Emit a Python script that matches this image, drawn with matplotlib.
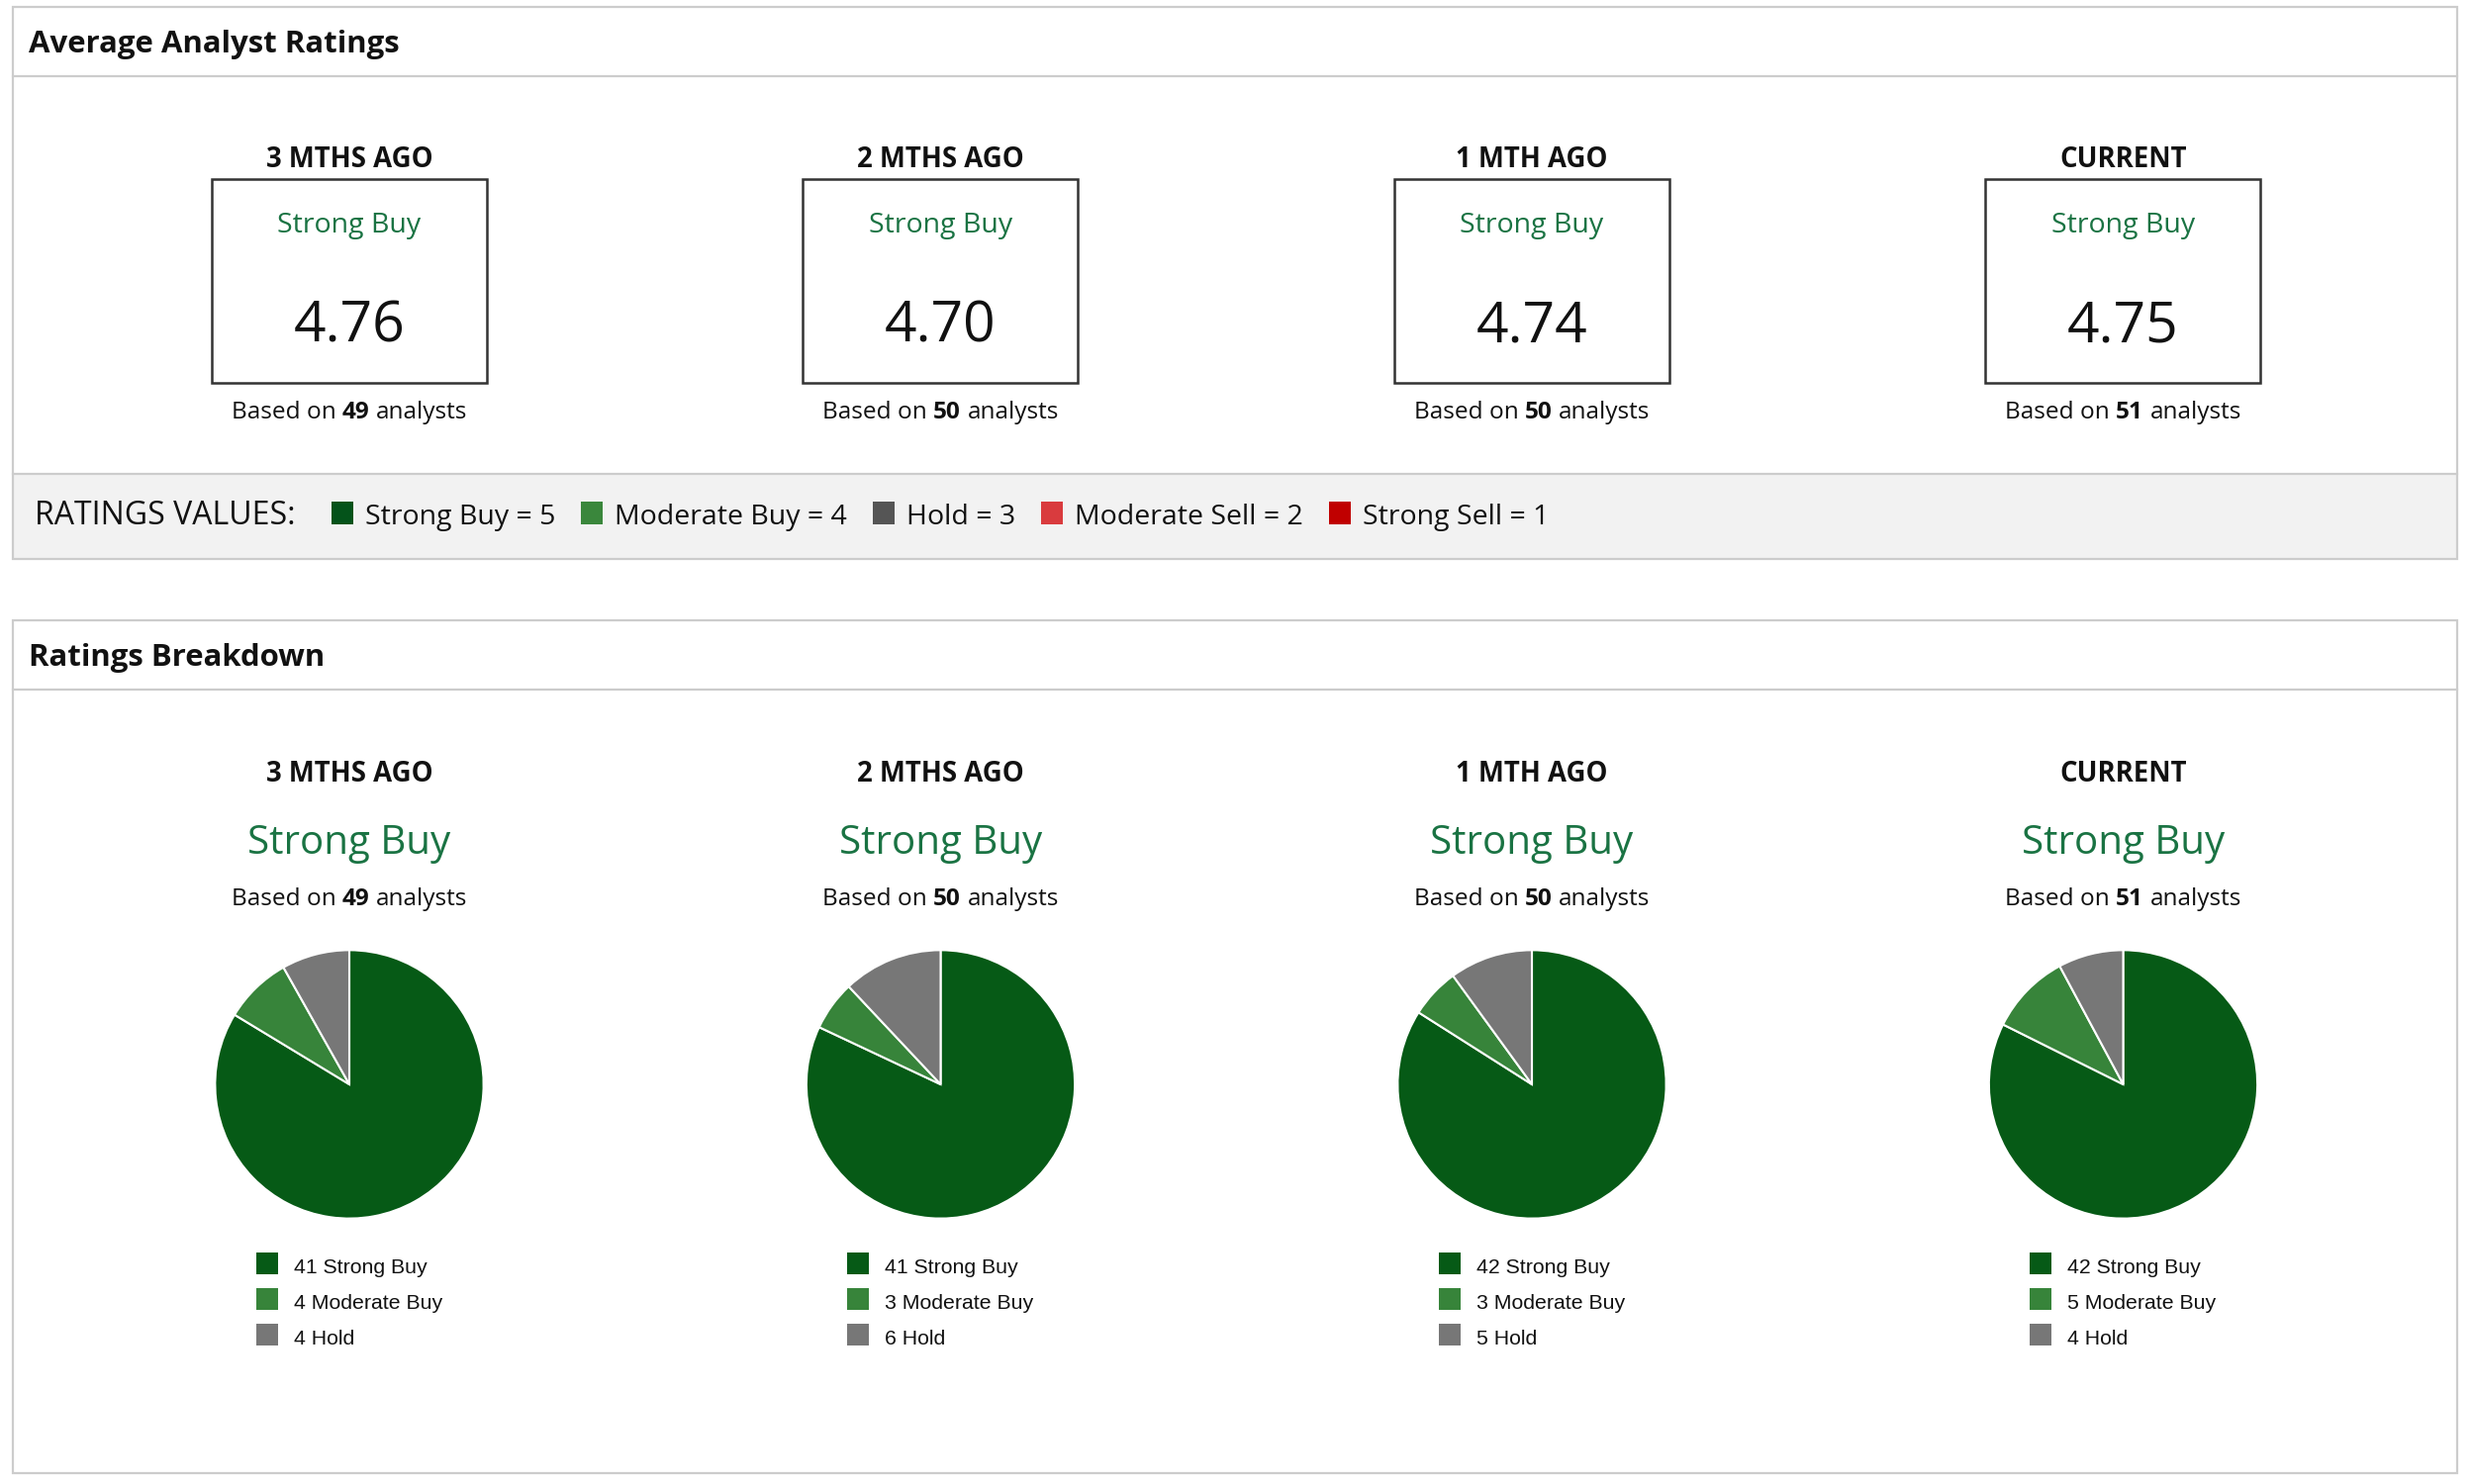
import matplotlib
matplotlib.use('Agg')
import matplotlib.pyplot as plt
from matplotlib.patches import Rectangle

# data
periods = ['3 MTHS AGO', '2 MTHS AGO', '1 MTH AGO', 'CURRENT']
avg_rating = [4.76, 4.70, 4.74, 4.75]
consensus = ['Strong Buy', 'Strong Buy', 'Strong Buy', 'Strong Buy']
n_analysts = [49, 50, 50, 51]
strong_buy = [41, 41, 42, 42]
moderate_buy = [4, 3, 3, 5]
hold = [4, 6, 5, 4]
rating_names = ['Strong Buy', 'Moderate Buy', 'Hold', 'Moderate Sell', 'Strong Sell']
rating_values = [5, 4, 3, 2, 1]

band_colors = ['#04531a', '#3a873c', '#555555', '#d93b3e', '#c00000']
pie_colors = ['#065a16', '#37843a', '#777777']
green_txt = '#1a7343'
border = '#cccccc'
FONT = 'Open Sans'
LFONT = 'Liberation Sans'

W, H = 2498, 1500
fig = plt.figure(figsize=(W / 100, H / 100), dpi=100)
ax = fig.add_axes([0, 0, 1, 1])
ax.set_xlim(0, W)
ax.set_ylim(H, 0)
ax.axis('off')
r = fig.canvas.get_renderer()


def width_of(t):
    return t.get_window_extent(renderer=r).width


def mixed_text(xc, y, parts, size):
    # parts: (string, weight); spaces are added between parts
    objs = []
    ws = []
    for s, w in parts:
        t = ax.text(0, y, s, fontsize=size, fontweight=w, family=FONT,
                    ha='left', va='baseline', color='#111111')
        objs.append(t)
        ws.append(width_of(t))
    a = ax.text(0, 0, 'nn', fontsize=size, family=FONT)
    b = ax.text(0, 0, 'n n', fontsize=size, family=FONT)
    sp = width_of(b) - width_of(a)
    a.remove()
    b.remove()
    total = sum(ws) + sp * (len(ws) - 1)
    x = xc - total / 2
    for t, w in zip(objs, ws):
        t.set_x(x)
        x += w + sp


left, right = 13, 2483
cols = [353 + i * 597.5 for i in range(4)]

# ---- top panel
ax.add_patch(Rectangle((left, 479), right - left, 565 - 479, facecolor='#f2f2f2',
                       edgecolor='none'))
ax.add_patch(Rectangle((left, 7), right - left, 565 - 7, facecolor='none',
                       edgecolor=border, lw=1.6))
ax.plot([left, right], [77, 77], color=border, lw=1.6)
ax.plot([left, right], [479, 479], color=border, lw=1.6)
ax.text(29, 53, 'Average Analyst Ratings', fontsize=22.4, fontweight='bold',
        family=FONT, va='baseline', color='#111111')

for i, cx in enumerate(cols):
    ax.text(cx, 169, periods[i], fontsize=19.8, fontweight='bold', family=FONT,
            ha='center', va='baseline', color='#111111')
    ax.add_patch(Rectangle((cx - 139, 181), 278, 206, facecolor='white',
                           edgecolor='#333333', lw=1.8))
    ax.text(cx, 235, consensus[i], fontsize=20.5, family=FONT, ha='center',
            va='baseline', color=green_txt)
    ax.text(cx, 346, f'{avg_rating[i]:.2f}', fontsize=41, family=FONT,
            ha='center', va='baseline', color='#111111')
    mixed_text(cx, 423, [('Based on', 'normal'), (str(n_analysts[i]), 'bold'),
                         ('analysts', 'normal')], 17.6)

# ratings values band
ax.text(35, 530, 'RATINGS VALUES:', fontsize=23, family=FONT, va='baseline',
        color='#111111')
x = 335
for name, val, c in zip(rating_names, rating_values, band_colors):
    ax.add_patch(Rectangle((x, 507), 22, 23, facecolor=c, edgecolor='none'))
    t = ax.text(x + 34, 530, f'{name} = {val}', fontsize=20.5, family=FONT,
                va='baseline', color='#111111')
    x = x + 34 + width_of(t) + 26

# ---- bottom panel
ax.add_patch(Rectangle((left, 627), right - left, 1489 - 627, facecolor='none',
                       edgecolor=border, lw=1.6))
ax.plot([left, right], [697, 697], color=border, lw=1.6)
ax.text(29, 673, 'Ratings Breakdown', fontsize=22.4, fontweight='bold',
        family=FONT, va='baseline', color='#111111')

pie_cy, pie_r = 1096, 137
leg_labels = ['Strong Buy', 'Moderate Buy', 'Hold']
for i, cx in enumerate(cols):
    ax.text(cx, 790, periods[i], fontsize=19.8, fontweight='bold', family=FONT,
            ha='center', va='baseline', color='#111111')
    ax.text(cx, 863, consensus[i], fontsize=29, family=FONT, ha='center',
            va='baseline', color=green_txt)
    mixed_text(cx, 915, [('Based on', 'normal'), (str(n_analysts[i]), 'bold'),
                         ('analysts', 'normal')], 17.6)

    pax = fig.add_axes([(cx - pie_r) / W, (H - pie_cy - pie_r) / H,
                        2 * pie_r / W, 2 * pie_r / H])
    counts = [strong_buy[i], moderate_buy[i], hold[i]]
    pax.pie(counts, colors=pie_colors, startangle=90, counterclock=False,
            radius=1, wedgeprops={'linewidth': 1.5, 'edgecolor': 'white'})
    pax.set_xlim(-1.01, 1.01)
    pax.set_ylim(-1.01, 1.01)

    for k, (cnt, lab) in enumerate(zip(counts, leg_labels)):
        y0 = 1266 + k * 36
        ax.add_patch(Rectangle((cx - 94, y0), 22, 22, facecolor=pie_colors[k],
                               edgecolor='none'))
        ax.text(cx - 56, y0 + 21, f'{cnt} {lab}', fontsize=15.3, family=LFONT,
                va='baseline', color='#111111')

fig.savefig('out.png', dpi=100)
